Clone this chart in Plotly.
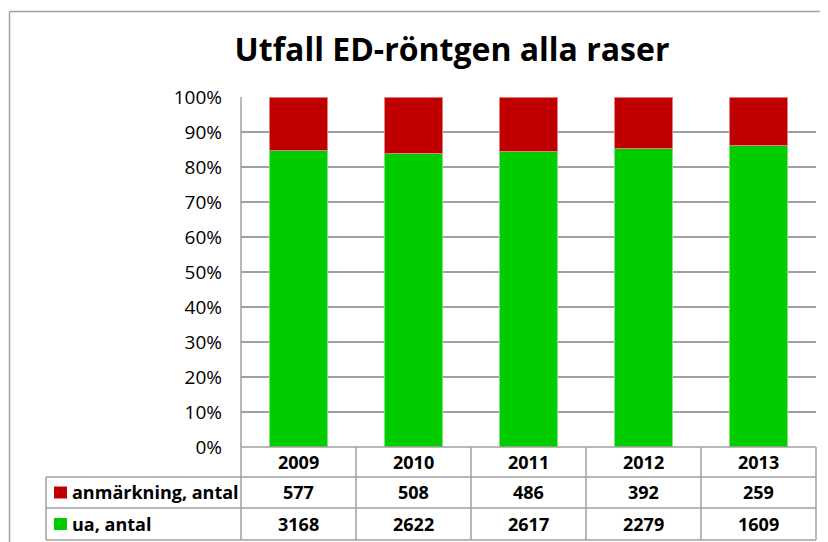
import plotly.graph_objects as go

years = ["2009", "2010", "2011", "2012", "2013"]
anm = [577, 508, 486, 392, 259]
ua = [3168, 2622, 2617, 2279, 1609]
series_names = ["anmärkning, antal", "ua, antal"]
red = "#C00000"
green = "#00CC00"
grid = "#A0A0A0"
FONT = "Open Sans"

W, H = 828, 542
OX, OY = 8, 8  # page body margin compensation
L, R, T, B = 241 - OX, 816 - OX, 97 - OY, 447 - OY

def px(x):
    return (x - OX - L) / (R - L)

def py(y):
    return (B - (y - OY)) / (B - T)

fig = go.Figure()
fig.add_trace(go.Bar(x=years, y=ua, name=series_names[1],
                     marker=dict(color=green, line=dict(color="#7FE67F", width=1)), width=0.5))
fig.add_trace(go.Bar(x=years, y=anm, name=series_names[0],
                     marker=dict(color=red, line=dict(color="#E08080", width=1)), width=0.5))

shapes = []
def line(x0, y0, x1, y1):
    shapes.append(dict(type="line", xref="paper", yref="paper", x0=px(x0), y0=py(y0), x1=px(x1), y1=py(y1),
                       line=dict(color=grid, width=1.5), layer="above"))

# outer border
line(9.5, 11.5, 860, 11.5)
line(9.5, 11.5, 9.5, 580)
# table grid
line(241, 447, 816, 447)
for yy in (477, 508, 540):
    line(46, yy, 816, yy)
line(46, 477, 46, 540)
line(241, 97, 241, 540)
cols = [241 + k * 115 for k in range(6)]
for xx in cols[1:]:
    line(xx, 447, xx, 540)

annotations = []
tf = dict(family=FONT, size=18, color="#000000")
for i, yr in enumerate(years):
    xc = px((cols[i] + cols[i + 1]) / 2)
    for txt, yc in ((yr, 462), (str(anm[i]), 492.5), (str(ua[i]), 524)):
        annotations.append(dict(x=xc, xref="paper", y=py(yc), yref="paper", text="<b>%s</b>" % txt,
                                showarrow=False, xanchor="center", yanchor="middle", font=tf))
# legend keys inside the table
for name, col, yc in ((series_names[0], red, 492.5), (series_names[1], green, 524)):
    shapes.append(dict(type="rect", xref="paper", yref="paper", x0=px(54), x1=px(67), y0=py(yc - 6), y1=py(yc + 6),
                       fillcolor=col, line=dict(width=0), layer="above"))
    annotations.append(dict(x=px(70), xref="paper", y=py(yc), yref="paper", text="<b>%s</b>" % name,
                            showarrow=False, xanchor="left", yanchor="middle", font=tf))

fig.update_layout(
    width=W, height=H,
    margin=dict(l=L, r=W - R, t=T, b=H - B, autoexpand=False),
    paper_bgcolor="white", plot_bgcolor="white",
    barmode="stack", barnorm="percent",
    showlegend=False,
    title=dict(text="<b>Utfall ED-röntgen alla raser</b>", x=(452 - OX) / W, xanchor="center",
               y=1 - (50 - OY) / H, yanchor="middle", yref="container", xref="container",
               font=dict(family=FONT, size=32, color="#000000")),
    xaxis=dict(range=[-0.5, 4.5], showticklabels=False, showgrid=False, zeroline=False, showline=False, ticks=""),
    yaxis=dict(range=[0, 100], dtick=10, ticksuffix="%", showgrid=True, gridcolor=grid, gridwidth=1.5,
               zeroline=False, showline=False, ticks="", ticklabelstandoff=18,
               tickfont=dict(family=FONT, size=19, color="#000000")),
    shapes=shapes, annotations=annotations,
)
fig.write_html("out.html")
